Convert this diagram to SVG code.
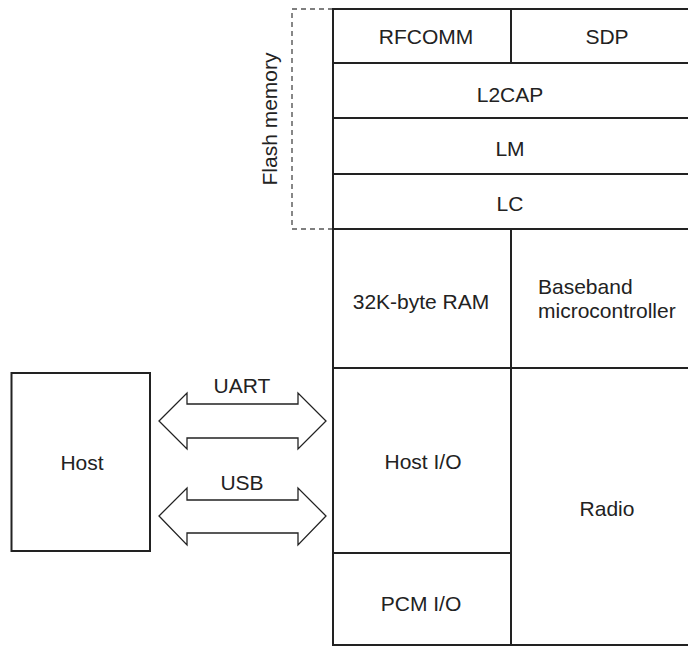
<svg xmlns="http://www.w3.org/2000/svg" width="688" height="646" viewBox="0 0 688 646">
<style>
  .box { fill: #fff; stroke: #222; stroke-width: 2; }
  .ln { stroke: #222; stroke-width: 2; fill: none; }
  .dash { stroke: #555; stroke-width: 1.4; fill: none; stroke-dasharray: 5 4; }
  .arr { fill: #fff; stroke: #222; stroke-width: 1.3; stroke-linejoin: miter; }
  text { font-family: "Liberation Sans", Arial, sans-serif; font-size: 21px; fill: #222; }
  .c { text-anchor: middle; }
</style>
<rect width="688" height="646" fill="#fff"/>

<g id="flash-memory">
  <path class="dash" d="M333,9 H292 V229 H333"/>
  <text class="c" transform="translate(277,119) rotate(-90)">Flash memory</text>
</g>

<g id="chip">
  <rect class="box" x="333" y="9" width="380" height="636"/>
</g>

<g id="rfcomm">
  <text class="c" x="426" y="44">RFCOMM</text>
</g>
<g id="sdp">
  <line class="ln" x1="511" y1="9" x2="511" y2="63"/>
  <text class="c" x="607" y="44">SDP</text>
</g>
<g id="l2cap">
  <line class="ln" x1="333" y1="63" x2="690" y2="63"/>
  <text class="c" x="510" y="102">L2CAP</text>
</g>
<g id="lm">
  <line class="ln" x1="333" y1="118" x2="690" y2="118"/>
  <text class="c" x="510" y="156">LM</text>
</g>
<g id="lc">
  <line class="ln" x1="333" y1="174" x2="690" y2="174"/>
  <text class="c" x="510" y="211">LC</text>
</g>
<g id="ram">
  <line class="ln" x1="333" y1="229" x2="690" y2="229"/>
  <text class="c" x="421" y="309">32K-byte RAM</text>
</g>
<g id="baseband">
  <line class="ln" x1="511" y1="229" x2="511" y2="645"/>
  <text x="538" y="294">Baseband</text>
  <text x="538" y="318">microcontroller</text>
</g>
<g id="host-io">
  <line class="ln" x1="333" y1="368" x2="690" y2="368"/>
  <text class="c" x="423" y="469">Host I/O</text>
</g>
<g id="radio">
  <text class="c" x="607" y="516">Radio</text>
</g>
<g id="pcm-io">
  <line class="ln" x1="333" y1="553" x2="511" y2="553"/>
  <text class="c" x="421" y="611">PCM I/O</text>
</g>

<g id="host">
  <rect class="box" x="11.5" y="373" width="138.5" height="178"/>
  <text class="c" x="82" y="470">Host</text>
</g>

<g id="connectors">
  <path class="arr" d="M159,421 L187,393 L187,404 L298,404 L298,393 L326,421 L298,449 L298,438 L187,438 L187,449 Z"/>
  <text class="c" x="242" y="393">UART</text>
  <path class="arr" d="M159,516 L187,488 L187,500 L298,500 L298,488 L326,516 L298,545 L298,533 L187,533 L187,545 Z"/>
  <text class="c" x="242" y="490">USB</text>
</g>
</svg>
